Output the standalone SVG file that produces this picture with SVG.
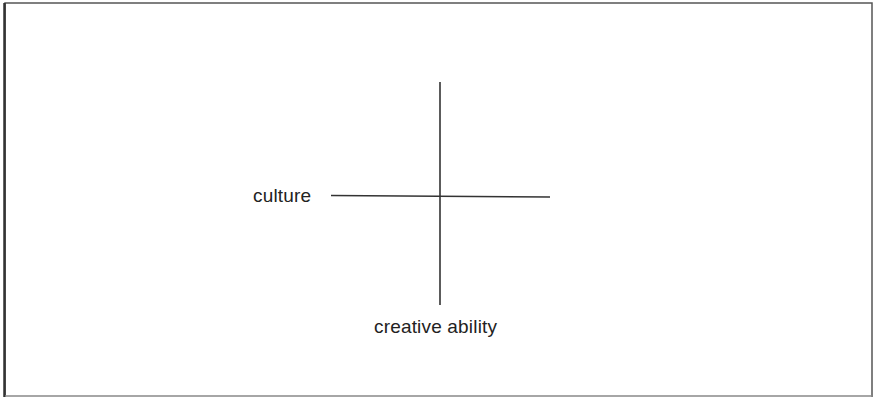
<svg xmlns="http://www.w3.org/2000/svg" width="876" height="397" viewBox="0 0 876 397">
<style>
.ax{stroke:#333;stroke-width:1.6;fill:none}
.lbl{font-family:"Liberation Sans",Arial,sans-serif;font-size:19px;fill:#222}
</style>
<rect x="0" y="0" width="876" height="397" fill="#fff"/>
<g id="frame">
<path d="M5,397 V3 H872 V397" fill="none" stroke="#555" stroke-width="1.5"/>
<line x1="4.5" y1="3" x2="4.5" y2="397" stroke="#333" stroke-width="2.5"/>
<line x1="5" y1="396" x2="872" y2="396" stroke="#888" stroke-width="1.5"/>
</g>
<g id="connectors">
<line class="ax" x1="440" y1="82" x2="440" y2="305"/>
<line class="ax" x1="331" y1="195.5" x2="550" y2="197"/>
</g>
<g id="culture"><text class="lbl" x="253" y="201.5" textLength="58">culture</text></g>
<g id="creative-ability"><text class="lbl" x="374" y="332.5" textLength="123">creative ability</text></g>
</svg>
